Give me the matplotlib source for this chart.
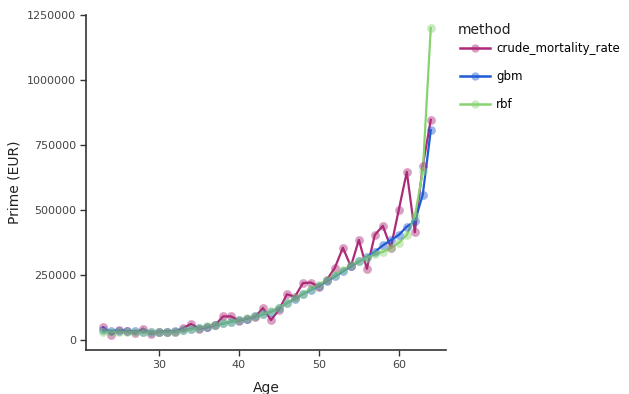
import matplotlib.pyplot as plt
from matplotlib.colors import to_rgba

ages = list(range(23, 65))

crude_mortality_rate = [
    50000, 22000, 40000, 35000, 27000, 45000, 25000, 33000, 34000, 33000,
    48000, 63000, 45000, 50000, 58000, 92000, 92000, 76000, 84000, 90000,
    124000, 78000, 117000, 177000, 168000, 220000, 222000, 206000, 233000, 279000,
    356000, 284000, 386000, 275000, 405000, 440000, 356000, 502000, 647000, 415000,
    671000, 847000,
]
gbm = [
    38000, 37000, 37000, 36000, 35000, 34000, 33000, 33000, 34000, 36000,
    39000, 43000, 48000, 53000, 59000, 65000, 71000, 77000, 84000, 92000,
    100000, 110000, 125000, 143000, 160000, 178000, 194000, 210000, 227000, 246000,
    265000, 285000, 303000, 321000, 340000, 365000, 385000, 405000, 437000, 457000,
    560000, 807000,
]
rbf = [
    32000, 32000, 32000, 32000, 31000, 31000, 31000, 31000, 32000, 34000,
    38000, 43000, 48000, 54000, 60000, 66000, 72000, 78000, 85000, 93000,
    101000, 111000, 126000, 144000, 161000, 180000, 197000, 214000, 232000, 251000,
    270000, 289000, 305000, 318000, 330000, 340000, 355000, 375000, 405000, 476000,
    649000, 1200000,
]

series = [
    ("crude_mortality_rate", crude_mortality_rate, "#AC2A78"),
    ("gbm", gbm, "#1F5BD3"),
    ("rbf", rbf, "#88D370"),
]

fig = plt.figure(figsize=(6.29, 3.94), dpi=100)
ax = fig.add_axes([0.137, 0.112, 0.572, 0.85])

for name, values, color in series:
    ax.plot(ages, values, color=color, linewidth=1.6, zorder=3)
    ax.scatter(ages, values, s=40, color=color, alpha=0.45, linewidths=0, zorder=4)
    ax.plot([], [], color=color, linewidth=1.8, marker="o", markersize=6,
            markerfacecolor=to_rgba(color, 0.45), markeredgewidth=0, label=name)

ax.set_xlim(20.875, 65.9)
ax.set_ylim(-36500, 1250000)
ax.set_xticks([30, 40, 50, 60])
ax.set_yticks([0, 250000, 500000, 750000, 1000000, 1250000])
ax.set_yticklabels(["0", "250000", "500000", "750000", "1000000", "1250000"])

for side in ["top", "right"]:
    ax.spines[side].set_visible(False)
for side in ["left", "bottom"]:
    ax.spines[side].set_color("#333333")
    ax.spines[side].set_linewidth(1.2)
ax.tick_params(direction="out", length=4, width=1, color="#333333",
               labelsize=8, labelcolor="#444444")

ax.set_xlabel("Age", fontsize=10, color="#222222", labelpad=8)
ax.set_ylabel("Prime (EUR)", fontsize=10, color="#222222", labelpad=4)

fig.text(458 / 629, 1 - 30 / 394, "method", fontsize=10, color="#222222",
         ha="left", va="center")
fig.legend(loc="upper left", bbox_to_anchor=(455 / 629, 1 - 37 / 394),
           frameon=False, fontsize=8.5, labelspacing=1.3,
           handlelength=2.6, handletextpad=0.5, borderaxespad=0)

plt.savefig("out.png", dpi=100)
